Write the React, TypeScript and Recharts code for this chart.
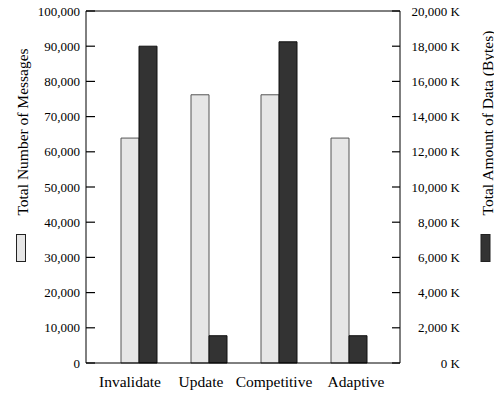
import { Bar, BarChart, Label, ReferenceLine, XAxis, YAxis } from 'recharts'

const categories = ['Invalidate', 'Update', 'Competitive', 'Adaptive']
const messageCounts = [63900, 76200, 76200, 63900]
const dataKBytes = [18000, 1550, 18250, 1550]
const messageTicks = [0, 10000, 20000, 30000, 40000, 50000, 60000, 70000, 80000, 90000, 100000]
const dataTicks = [0, 2000, 4000, 6000, 8000, 10000, 12000, 14000, 16000, 18000, 20000]

const rows = categories.map((name, i) => ({
  name,
  messages: messageCounts[i],
  data: dataKBytes[i],
}))

const FONT = '"Liberation Serif", "Times New Roman", serif'
const LIGHT = '#e6e6e6'
const DARK = '#333333'

// the category labels in the original sit a little off their bar pairs
const labelShift = [-9, -8, -5, 7]

// label anchor x arrives 6px outside the axis line (tickSize 0, tickMargin 6),
// the inward tick marks are drawn here
function LeftTick({ x, y, payload }: any) {
  const axisX = x + 6
  return (
    <g>
      <path d={`M${axisX},${y}H${axisX + 9}`} stroke="#000" strokeWidth={1.2} fill="none" />
      <text x={x} y={y} dy="0.35em" textAnchor="end" fontSize={13} fontFamily={FONT} fill="#000">
        {payload.value.toLocaleString('en-US')}
      </text>
    </g>
  )
}

function RightTick({ x, y, payload }: any) {
  const axisX = x - 6
  return (
    <g>
      <path d={`M${axisX - 8},${y}H${axisX}`} stroke="#000" strokeWidth={1.2} fill="none" />
      <text x={axisX + 60} y={y} dy="0.35em" textAnchor="end" fontSize={13} fontFamily={FONT} fill="#000">
        {payload.value.toLocaleString('en-US') + ' K'}
      </text>
    </g>
  )
}

function CategoryTick({ x, y, payload, index }: any) {
  return (
    <text x={x + (labelShift[index] ?? 0)} y={y} dy="0.71em" textAnchor="middle" fontSize={15.5} fontFamily={FONT} fill="#000">
      {payload.value}
    </text>
  )
}

function AxisTitle({ cx, cy, text, boxX, fill }: { cx: number; cy: number; text: string; boxX: number; fill: string }) {
  return (
    <g>
      <text
        x={cx}
        y={cy}
        transform={`rotate(-90 ${cx} ${cy})`}
        textAnchor="middle"
        dominantBaseline="central"
        fontSize={15.5}
        fontFamily={FONT}
        fill="#000"
      >
        {text}
      </text>
      <rect x={boxX} y={234.5} width={9} height={27} fill={fill} stroke="#222" strokeWidth={1} />
    </g>
  )
}

export default function App() {
  return (
    <div style={{ position: 'absolute', left: 0, top: 0, background: '#fff' }}>
      <BarChart
        width={494}
        height={397}
        data={rows}
        margin={{ top: 11, right: 0, bottom: 0, left: 0 }}
        barGap={0}
        barSize={18}
      >
        <XAxis
          dataKey="name"
          height={34}
          padding={{ left: 18, right: 16 }}
          axisLine={{ stroke: '#000' }}
          tickLine={false}
          tickSize={0}
          tickMargin={13}
          tick={<CategoryTick />}
          interval={0}
        />
        <YAxis
          yAxisId="left"
          orientation="left"
          width={86}
          domain={[0, 100000]}
          ticks={messageTicks}
          interval={0}
          axisLine={{ stroke: '#000' }}
          tickLine={false}
          tickSize={0}
          tickMargin={6}
          tick={<LeftTick />}
        >
          <Label
            content={() => (
              <AxisTitle cx={22} cy={132} text="Total Number of Messages" boxX={16.5} fill={LIGHT} />
            )}
          />
        </YAxis>
        <YAxis
          yAxisId="right"
          orientation="right"
          width={94}
          domain={[0, 20000]}
          ticks={dataTicks}
          interval={0}
          axisLine={{ stroke: '#000' }}
          tickLine={false}
          tickSize={0}
          tickMargin={6}
          tick={<RightTick />}
        >
          <Label
            content={() => (
              <AxisTitle cx={487} cy={123} text="Total Amount of Data (Bytes)" boxX={481} fill={DARK} />
            )}
          />
        </YAxis>
        <ReferenceLine yAxisId="left" y={100000} stroke="#000" />
        <Bar yAxisId="left" dataKey="messages" fill={LIGHT} stroke="#555" strokeWidth={1} isAnimationActive={false} />
        <Bar yAxisId="right" dataKey="data" fill={DARK} stroke="#111" strokeWidth={1} isAnimationActive={false} />
      </BarChart>
    </div>
  )
}
